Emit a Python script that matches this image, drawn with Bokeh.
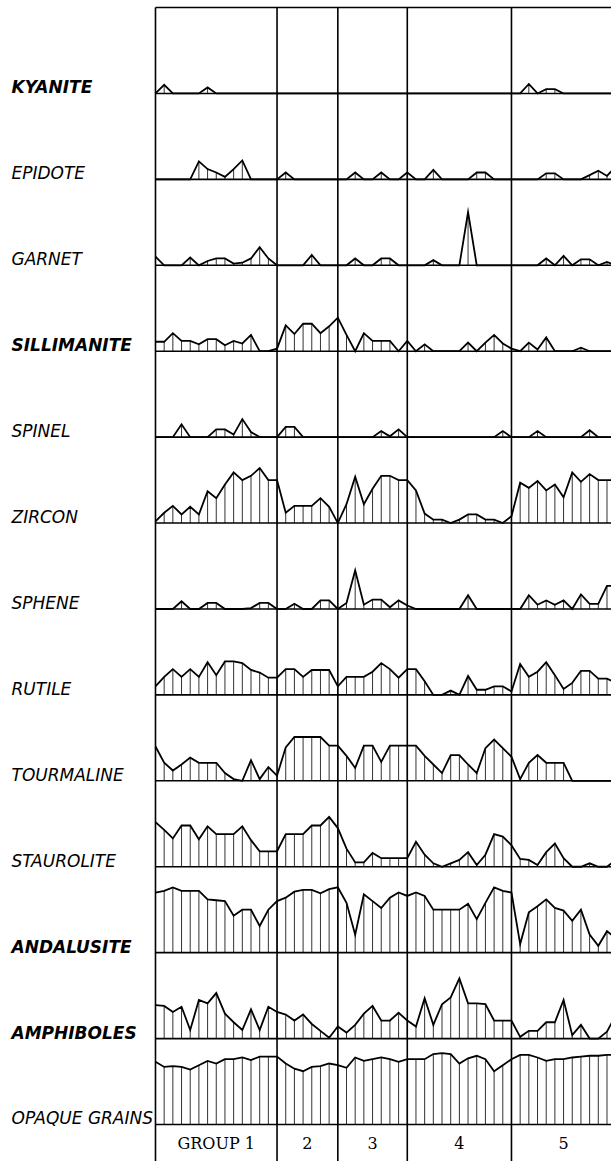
from bokeh.plotting import figure
from bokeh.models import Range1d
from bokeh.embed import file_html
from bokeh.resources import INLINE
from bokeh.core.properties import value

# ---------------- data (percent of row height, one value per sample) ----------------
minerals = ["KYANITE", "EPIDOTE", "GARNET", "SILLIMANITE", "SPINEL", "ZIRCON", "SPHENE",
            "RUTILE", "TOURMALINE", "STAUROLITE", "ANDALUSITE", "AMPHIBOLES", "OPAQUE GRAINS"]
bold_labels = ["KYANITE", "SILLIMANITE", "ANDALUSITE", "AMPHIBOLES"]
group_labels = ["GROUP 1", "2", "3", "4", "5"]
group_bounds = [0, 14, 21, 29, 41, 53]   # sample index at each group boundary

KYANITE = [0, 10, 0, 0, 0, 0, 7, 0, 0, 0,
           0, 0, 0, 0, 0, 0, 0, 0, 0, 0,
           0, 0, 0, 0, 0, 0, 0, 0, 0, 0,
           0, 0, 0, 0, 0, 0, 0, 0, 0, 0,
           0, 0, 0, 11, 0, 5, 5, 0, 0, 0,
           0, 0, 0, 0]
EPIDOTE = [0, 0, 0, 0, 0, 21, 12, 8, 3, 12,
           22, 0, 0, 0, 0, 8, 0, 0, 0, 0,
           0, 0, 0, 8, 0, 0, 8, 0, 0, 8,
           0, 0, 11, 0, 0, 0, 0, 8, 8, 0,
           0, 0, 0, 0, 0, 7, 7, 0, 0, 0,
           5, 10, 4, 15]
GARNET = [10, 0, 0, 0, 9, 0, 5, 8, 8, 2,
          3, 8, 21, 8, 0, 0, 0, 0, 12, 0,
          0, 0, 0, 8, 0, 0, 8, 8, 0, 0,
          0, 0, 6, 0, 0, 0, 62, 0, 0, 0,
          0, 0, 0, 0, 0, 8, 0, 11, 0, 7,
          7, 0, 4, 0]
SILLIMANITE = [11, 11, 21, 12, 12, 8, 14, 14, 7, 12,
               9, 19, 0, 0, 3, 30, 20, 32, 32, 21,
               29, 39, 19, 0, 21, 12, 12, 12, 0, 12,
               0, 8, 0, 0, 0, 0, 10, 0, 10, 19,
               9, 3, 0, 10, 2, 16, 0, 0, 0, 4,
               0, 0, 0, 0]
SPINEL = [0, 0, 0, 15, 0, 0, 0, 9, 9, 3,
          21, 6, 0, 0, 0, 12, 12, 0, 0, 0,
          0, 0, 0, 0, 0, 0, 7, 1, 9, 0,
          0, 0, 0, 0, 0, 0, 0, 0, 0, 0,
          7, 0, 0, 0, 7, 0, 0, 0, 0, 0,
          8, 0, 0, 0]
ZIRCON = [2, 12, 20, 10, 19, 10, 37, 29, 45, 59,
          50, 55, 64, 50, 50, 12, 20, 20, 20, 29,
          19, 0, 22, 54, 22, 40, 55, 55, 50, 50,
          38, 11, 4, 4, 0, 4, 10, 10, 4, 4,
          0, 8, 47, 41, 49, 38, 45, 30, 59, 48,
          57, 50, 50, 50]
SPHENE = [0, 0, 0, 9, 0, 0, 7, 7, 0, 0,
          0, 1, 7, 7, 0, 0, 6, 0, 0, 10,
          10, 0, 7, 45, 5, 11, 11, 2, 10, 4,
          0, 0, 0, 0, 0, 0, 16, 0, 0, 0,
          0, 0, 0, 16, 5, 10, 5, 10, 0, 17,
          6, 6, 27, 27]
RUTILE = [10, 21, 30, 21, 30, 21, 38, 23, 39, 39,
          37, 29, 26, 20, 20, 30, 30, 21, 29, 29,
          29, 10, 21, 21, 21, 27, 37, 30, 20, 30,
          30, 16, 0, 0, 5, 0, 22, 6, 6, 10,
          10, 4, 36, 21, 27, 38, 23, 7, 14, 28,
          28, 19, 19, 14]
TOURMALINE = [40, 21, 12, 19, 27, 21, 21, 21, 9, 2,
              0, 24, 2, 16, 6, 39, 51, 51, 51, 51,
              41, 41, 29, 15, 41, 41, 22, 41, 41, 41,
              41, 29, 19, 9, 30, 30, 19, 9, 38, 48,
              38, 28, 2, 21, 30, 21, 21, 21, 0, 0,
              0, 0, 0, 0]
STAUROLITE = [52, 43, 33, 48, 48, 32, 47, 38, 38, 38,
              47, 31, 18, 18, 18, 38, 38, 38, 48, 48,
              58, 45, 21, 5, 5, 16, 10, 10, 10, 10,
              29, 14, 4, 0, 4, 8, 17, 2, 14, 38,
              35, 25, 9, 8, 2, 17, 27, 10, 0, 0,
              4, 0, 0, 8]
ANDALUSITE = [70, 72, 76, 72, 72, 72, 62, 61, 60, 43,
              50, 50, 31, 50, 60, 64, 71, 73, 73, 69,
              74, 76, 58, 21, 68, 60, 52, 64, 70, 66,
              70, 66, 50, 50, 50, 50, 57, 39, 58, 76,
              72, 70, 10, 47, 54, 62, 52, 49, 37, 50,
              21, 8, 25, 17]
AMPHIBOLES = [39, 38, 31, 37, 10, 45, 41, 53, 29, 19,
              10, 34, 10, 37, 31, 28, 21, 28, 17, 9,
              1, 14, 7, 16, 29, 38, 21, 21, 30, 21,
              14, 47, 16, 40, 48, 70, 41, 41, 40, 21,
              21, 21, 2, 9, 9, 19, 19, 45, 4, 16,
              0, 0, 8, 27]
OPAQUE_GRAINS = [73, 67, 68, 67, 64, 69, 74, 71, 76, 76,
                 78, 75, 79, 79, 79, 71, 65, 62, 67, 68,
                 71, 69, 66, 78, 74, 76, 78, 76, 73, 76,
                 76, 76, 82, 83, 82, 71, 77, 80, 76, 62,
                 69, 76, 81, 81, 78, 74, 76, 76, 78, 79,
                 80, 80, 81, 81]

series = [KYANITE, EPIDOTE, GARNET, SILLIMANITE, SPINEL, ZIRCON, SPHENE,
          RUTILE, TOURMALINE, STAUROLITE, ANDALUSITE, AMPHIBOLES, OPAQUE_GRAINS]

# ---------------- layout ----------------
ROW_FULL = 100.0                 # value that would fill one row
n_rows = len(series)
n_samples = len(series[0])
for s in series:
    assert len(s) == n_samples

W, H = 611, 1161
X_START, X_END = -17.85, 52.52     # left area holds the labels
Y_START, Y_END = -0.4306, 13.082   # bottom band holds group names

p = figure(width=W, height=H, x_range=Range1d(X_START, X_END), y_range=Range1d(Y_START, Y_END),
           output_backend="svg", toolbar_location=None,
           min_border=0, min_border_left=0, min_border_right=0, min_border_top=0, min_border_bottom=0,
           outline_line_color=None, background_fill_color="white", border_fill_color="white")
p.xaxis.visible = False
p.yaxis.visible = False
p.xgrid.visible = False
p.ygrid.visible = False

idx = list(range(n_samples))
bases = [n_rows - 1 - k for k in range(n_rows)]

# vertical hatch lines at every sample
hx, hy0, hy1 = [], [], []
for base, vals in zip(bases, series):
    for i, v in zip(idx, vals):
        if v > 0:
            hx.append(i)
            hy0.append(base)
            hy1.append(base + v / ROW_FULL)
p.segment(x0=hx, y0=hy0, x1=hx, y1=hy1, line_color="#333333", line_width=1)

# row divider lines and top border
row_ys = list(range(0, n_rows + 1))
p.segment(x0=[group_bounds[0]] * len(row_ys), y0=row_ys, x1=[X_END + 1] * len(row_ys), y1=row_ys,
          line_color="black", line_width=1.6)

# group boundary lines
gb = group_bounds[:-1]
p.segment(x0=gb, y0=[Y_START - 1] * len(gb), x1=gb, y1=[n_rows] * len(gb),
          line_color="black", line_width=1.6)

# profiles
p.multi_line(xs=[idx] * n_rows,
             ys=[[base + v / ROW_FULL for v in vals] for base, vals in zip(bases, series)],
             line_color="black", line_width=1.8, line_join="miter")

# mineral labels
label_x = X_START + 11 / (W / (X_END - X_START))
lab_off = 0.07
norm = [(m, b) for m, b in zip(minerals, bases) if m not in bold_labels]
bold = [(m, b) for m, b in zip(minerals, bases) if m in bold_labels]
p.text(x=[label_x] * len(norm), y=[b + lab_off for _, b in norm], text=[m for m, _ in norm],
       text_font=value("DejaVu Sans"), text_font_style="italic", text_font_size="17px",
       text_align="left", text_baseline="middle", text_color="black")
p.text(x=[label_x] * len(bold), y=[b + lab_off for _, b in bold], text=[m for m, _ in bold],
       text_font=value("DejaVu Sans"), text_font_style="bold italic", text_font_size="17px",
       text_align="left", text_baseline="middle", text_color="black")

# group labels
centers = [(a + b) / 2 for a, b in zip(group_bounds[:-1], group_bounds[1:])]
p.text(x=centers, y=[Y_START / 2] * len(centers), text=group_labels,
       text_font=value("DejaVu Serif"), text_font_size="16px",
       text_align="center", text_baseline="middle", text_color="black")

open("out.html", "w").write(file_html(p, INLINE))
